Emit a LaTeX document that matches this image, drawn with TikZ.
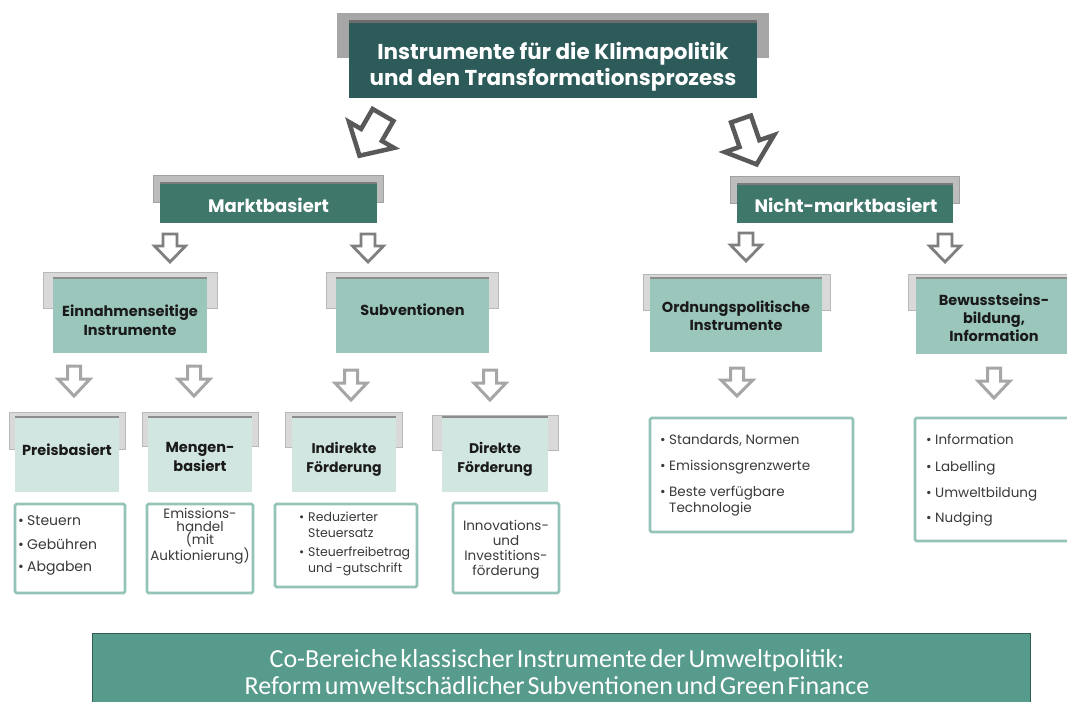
\documentclass[tikz,border=0pt]{standalone}
\usepackage{fontspec}
\setmainfont{Poppins}
\newfontfamily\bandfont{Carlito}
\usetikzlibrary{shadows}
\definecolor{fzero}{HTML}{2D5B5A}
\definecolor{fone}{HTML}{3F786B}
\definecolor{ftwo}{HTML}{9AC6BB}
\definecolor{fthree}{HTML}{D2E6E1}
\definecolor{bordfour}{HTML}{94C3B8}
\definecolor{bandcol}{HTML}{569B8B}
\definecolor{bandline}{HTML}{2F5E55}
\definecolor{backdark}{HTML}{A6A6A6}
\definecolor{backmid}{HTML}{BDBDBD}
\definecolor{backlight}{HTML}{D9D9D9}
\definecolor{arrbig}{HTML}{595959}
\definecolor{arrmid}{HTML}{7F7F7F}
\definecolor{arrlight}{HTML}{A6A6A6}
\definecolor{darktext}{HTML}{1A1A1A}
\definecolor{listcol}{HTML}{3A3A3A}
\newcommand{\blockarr}[7]{%
  \begin{scope}[shift={#1},rotate=#2]
    \draw[#7] (-#3,0) -- (#3,0) -- (#3,{#5-#6}) -- (#4,{#5-#6}) -- (0,#5)
      -- (-#4,{#5-#6}) -- (-#3,{#5-#6}) -- cycle;
  \end{scope}}
\newcommand{\bul}{\makebox[9pt][l]{\textbullet}}
\newcommand{\bandsetup}{\bandfont\fontsize{26}{27.5}\selectfont\spaceskip=3pt plus 1pt minus 0.5pt\relax}
\begin{document}
\begin{tikzpicture}[x=1pt,y=-1pt,
  boxbase/.style={inner sep=0pt, outer sep=0pt, anchor=center},
  backA/.style={boxbase, fill=backdark},
  backB/.style={boxbase, fill=backmid, draw=backmid!85!black, line width=0.6pt},
  backC/.style={boxbase, fill=backlight, draw=backlight!85!black, line width=0.6pt},
  frontbox/.style={boxbase, fill=#1, drop shadow={shadow xshift=0pt, shadow yshift=2.5pt, fill=black, opacity=0.35}},
  listbox/.style={boxbase, fill=white, draw=bordfour, line width=2.6pt, rounded corners=1.5pt},
  bigarr/.style={draw=arrbig, line width=4.5pt, fill=white, line join=miter},
  midarr/.style={draw=arrmid, line width=2.8pt, fill=white, line join=miter},
  lightarr/.style={draw=arrlight, line width=3pt, fill=white, line join=miter},
  headtext/.style={inner sep=0pt, align=center, text=white, font=\bfseries\fontsize{#1}{#1}\selectfont},
  boxtext/.style={inner sep=0pt, align=center, text=darktext, font=\bfseries\fontsize{14.5}{19}\selectfont},
  listtext/.style={inner sep=0pt, text=listcol, font=\fontsize{13.5}{16}\selectfont}
]
\useasboundingbox (0,0) rectangle (1067,701);

% ---- title
\node[backA, minimum width=432, minimum height=45] (b-title) at (553,35.5) {};
\node[frontbox=fzero, minimum width=408, minimum height=75] (f-title) at (553,60.5) {};
\node[headtext=21.5, font=\bfseries\fontsize{21.5}{26}\selectfont] (t-title) at (553,67)
  {Instrumente für die Klimapolitik\\und den Transformationsprozess};

% ---- big arrows
\blockarr{(383,115)}{-30}{12}{26}{47}{24}{bigarr}
\blockarr{(741,119)}{19}{10.5}{26}{48}{22}{bigarr}

% ---- level 1
\node[backB, minimum width=230, minimum height=27] (b-markt) at (268,188.5) {};
\node[frontbox=fone, minimum width=217, minimum height=39] (f-markt) at (268.5,203.5) {};
\node[headtext=18] (t-markt) at (268.5,205) {Marktbasiert};

\node[backB, minimum width=229, minimum height=27] (b-nicht) at (844.5,189.5) {};
\node[frontbox=fone, minimum width=216, minimum height=38] (f-nicht) at (845,204) {};
\node[headtext=18] (t-nicht) at (846,205) {Nicht-marktbasiert};

\blockarr{(170,234)}{0}{7}{15.5}{28}{16}{midarr}
\blockarr{(368,234)}{0}{7}{15.5}{28}{16}{midarr}
\blockarr{(746,233)}{0}{7}{15.5}{28}{16}{midarr}
\blockarr{(945,234)}{0}{7}{15.5}{28}{16}{midarr}

% ---- level 2
\node[backC, minimum width=174, minimum height=36] (b-einn) at (130,290) {};
\node[frontbox=ftwo, minimum width=154, minimum height=74] (f-einn) at (130,316) {};
\node[boxtext] (t-einn) at (130,320) {Einnahmenseitige\\Instrumente};

\node[backC, minimum width=172, minimum height=36] (b-subv) at (412,290) {};
\node[frontbox=ftwo, minimum width=153, minimum height=74] (f-subv) at (412.5,316) {};
\node[boxtext] (t-subv) at (412.5,310) {Subventionen};

\node[backC, minimum width=187, minimum height=36] (b-ordn) at (736.5,292) {};
\node[frontbox=ftwo, minimum width=172, minimum height=73] (f-ordn) at (736,315.5) {};
\node[boxtext, font=\bfseries\fontsize{14.5}{18}\selectfont] (t-ordn) at (736,316) {Ordnungspolitische\\Instrumente};

\node[backC, minimum width=172, minimum height=36] (b-bew) at (994,292) {};
\node[frontbox=ftwo, minimum width=156, minimum height=75] (f-bew) at (994,316.5) {};
\node[boxtext, font=\bfseries\fontsize{14.5}{18}\selectfont] (t-bew) at (994,318) {Bewusstseins-\\bildung,\\Information};

\blockarr{(74,366)}{0}{6.5}{16}{30}{17}{lightarr}
\blockarr{(194,366)}{0}{6.5}{16}{30}{17}{lightarr}
\blockarr{(351,370)}{0}{6.5}{16}{30}{17}{lightarr}
\blockarr{(490,370)}{0}{6.5}{16}{30}{17}{lightarr}
\blockarr{(737,368)}{0}{6.5}{16}{28}{16}{lightarr}
\blockarr{(994,368)}{0}{6.5}{16}{30}{17}{lightarr}

% ---- level 3
\node[backC, minimum width=116, minimum height=37] (b-preis) at (67,430.5) {};
\node[frontbox=fthree, minimum width=104, minimum height=74] (f-preis) at (67,455) {};
\node[boxtext] (t-preis) at (67,450) {Preisbasiert};

\node[backC, minimum width=116, minimum height=34] (b-meng) at (200,429) {};
\node[frontbox=fthree, minimum width=104, minimum height=74] (f-meng) at (200,455) {};
\node[boxtext] (t-meng) at (200,457) {Mengen-\\basiert};

\node[backC, minimum width=117, minimum height=35] (b-indi) at (343.5,429.5) {};
\node[frontbox=fthree, minimum width=104, minimum height=74] (f-indi) at (344,455) {};
\node[boxtext, font=\bfseries\fontsize{14}{19}\selectfont] (t-indi) at (344,459.5) {Indirekte\\Förderung};

\node[backC, minimum width=126, minimum height=35] (b-dire) at (495,432.5) {};
\node[frontbox=fthree, minimum width=106, minimum height=74] (f-dire) at (495,455) {};
\node[boxtext, font=\bfseries\fontsize{14}{19}\selectfont] (t-dire) at (495,459.5) {Direkte\\Förderung};

% ---- level 4
\node[listbox, minimum width=110, minimum height=89] (l-preis) at (70,548.5) {};
\node[listtext, anchor=north west, align=left, font=\fontsize{14}{16}\selectfont] (x-preis) at (18,515)
  {\bul Steuern\\[8pt]\bul Gebühren\\[6pt]\bul Abgaben};

\node[listbox, minimum width=106, minimum height=89] (l-meng) at (200,548.5) {};
\node[listtext, align=center, font=\fontsize{13.5}{13}\selectfont] (x-meng) at (200,536)
  {Emissions-\\handel\\(mit\\Auktionierung)};

\node[listbox, minimum width=142, minimum height=83] (l-indi) at (346,545.5) {};
\node[listtext, anchor=north west, align=left, font=\fontsize{12.5}{15.5}\selectfont] (x-indi) at (299,512)
  {\bul Reduzierter\\\hspace*{9pt}Steuersatz\\[4pt]\bul Steuerfreibetrag\\\hspace*{9pt}und -gutschrift};

\node[listbox, minimum width=106, minimum height=90] (l-dire) at (506,548) {};
\node[listtext, align=center, font=\fontsize{13.5}{15}\selectfont] (x-dire) at (506,550)
  {Innovations-\\und\\Investitions-\\förderung};

\node[listbox, minimum width=203, minimum height=114] (l-ordn) at (751.5,475) {};
\node[listtext, anchor=north west, align=left, font=\fontsize{13.5}{16}\selectfont] (x-ordn) at (660,434)
  {\bul Standards, Normen\\[10.5pt]\bul Emissionsgrenzwerte\\[10pt]\bul Beste verfügbare\\\hspace*{9pt}Technologie};

\node[listbox, minimum width=160, minimum height=123] (l-bew) at (995,479.5) {};
\node[listtext, anchor=north west, align=left, font=\fontsize{13.5}{16}\selectfont] (x-bew) at (926,434)
  {\bul Information\\[10.5pt]\bul Labelling\\[10pt]\bul Umweltbildung\\[9pt]\bul Nudging};

% ---- bottom band
\node[boxbase, fill=bandcol, draw=bandline, line width=1pt, minimum width=938, minimum height=77] (band) at (561,671.5) {};
\node[inner sep=0pt, align=center, text=white, font=\bandsetup] (t-band) at (557,672)
  {Co-Bereiche klassischer Instrumente der Umweltpolitik:\\Reform umweltschädlicher Subventionen und Green Finance};
\end{tikzpicture}
\end{document}
